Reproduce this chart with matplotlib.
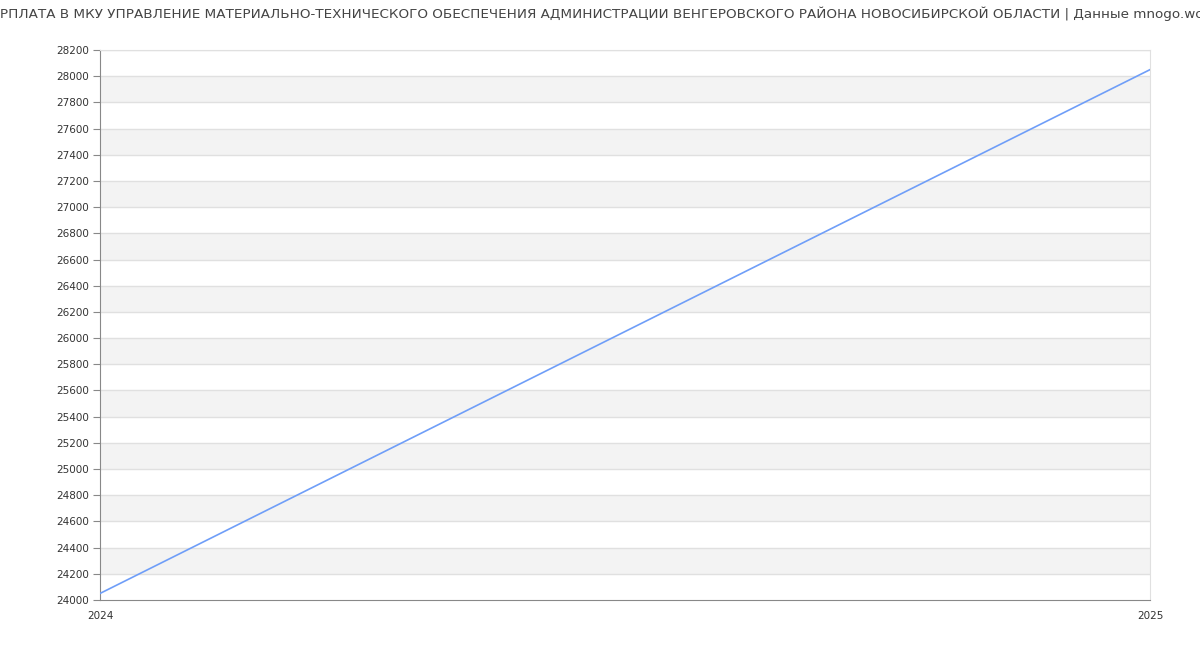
import matplotlib.pyplot as plt
import numpy as np

title = ('ЗАРПЛАТА В МКУ УПРАВЛЕНИЕ МАТЕРИАЛЬНО-ТЕХНИЧЕСКОГО ОБЕСПЕЧЕНИЯ АДМИНИСТРАЦИИ '
         'ВЕНГЕРОВСКОГО РАЙОНА НОВОСИБИРСКОЙ ОБЛАСТИ | Данные mnogo.work')
years = [2024, 2025]
salary = [24050, 28050]
y_ticks = list(range(24000, 28201, 200))

fig = plt.figure(figsize=(12, 6.5), dpi=100)
ax = fig.add_axes([100 / 1200, 50 / 650, 1050 / 1200, 550 / 650])

# alternating background bands
for i, lo in enumerate(y_ticks[:-1]):
    if i % 2 == 1:
        ax.axhspan(lo, lo + 200, color='#f3f3f3', zorder=0, lw=0)
for t in y_ticks[1:]:
    ax.axhline(t, color='#e0e0e0', lw=1, zorder=1)

ax.plot(years, salary, color='#6f9ef8', lw=1.2, zorder=3)

ax.set_xlim(2024, 2025)
ax.set_ylim(24000, 28200)
ax.set_yticks(y_ticks)
ax.set_xticks(years)
ax.set_xticklabels([str(y) for y in years])

for side in ['top', 'right']:
    ax.spines[side].set_color('#e0e0e0')
for side in ['left', 'bottom']:
    ax.spines[side].set_color('#888888')
ax.tick_params(axis='y', length=5, color='#888888', labelsize=7.5, labelcolor='#333333', pad=3)
ax.tick_params(axis='x', length=0, labelsize=7.5, labelcolor='#333333', pad=8)

# title is wider than the figure in the reference, so its ends are clipped there too
fig.text(0.5, 1 - 14 / 650, title, ha='center', va='center', fontsize=9.7, color='#444444')

fig.savefig('out.png', dpi=100)
